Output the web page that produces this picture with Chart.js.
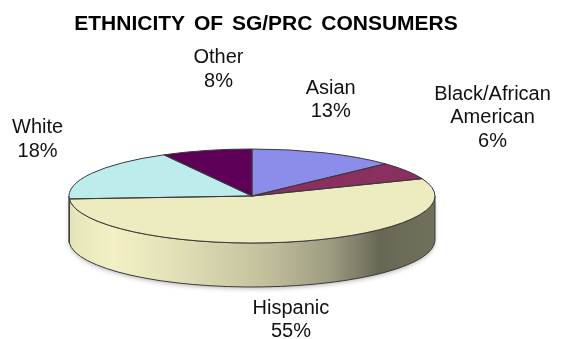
<!DOCTYPE html>
<html>
<head>
<meta charset="utf-8">
<title>Ethnicity of SG/PRC Consumers</title>
<script src="https://cdn.jsdelivr.net/npm/chart.js@4.4.1/dist/chart.umd.min.js"></script>
<style>
  html, body { margin: 0; padding: 0; background: #fff; }
  canvas { display: block; }
</style>
</head>
<body>
<canvas id="pieChart" width="561" height="339"></canvas>
<script>
const chartTitle = "ETHNICITY OF SG/PRC CONSUMERS";
const groups = ["Asian", "Black/African American", "Hispanic", "White", "Other"];
const shares = [13, 6, 55, 18, 8];
const labelLines = [["Asian"], ["Black/African", "American"], ["Hispanic"], ["White"], ["Other"]];

const sliceColors = ["#8c8cea", "#8a2f5f", "#edebc0", "#bcecec", "#5e0058"];
// where each label sits relative to the middle of its slice's rim
const labelOffsets = [[6, -53], [86, -53], [-1, 78], [-54, -34], [12, -81]];

// 3D look: flattened ellipse plus a wall underneath
const PIE_RX = 183;
const PIE_RY = 47;
const PIE_DEPTH = 44;
const EDGE = "#3a3a3a";
const FONT = '"Liberation Sans", Arial, sans-serif';

function shade(hex, f) {
  const n = parseInt(hex.slice(1), 16);
  const c = [(n >> 16) & 255, (n >> 8) & 255, n & 255].map(v => Math.max(0, Math.min(255, Math.round(v * f))));
  return `rgb(${c[0]},${c[1]},${c[2]})`;
}

function wallGradient(ctx, cx, color) {
  const g = ctx.createLinearGradient(cx - PIE_RX, 0, cx + PIE_RX, 0);
  [[0, 0.97], [0.12, 1.02], [0.3, 0.95], [0.52, 0.83], [0.71, 0.67], [0.85, 0.44], [1, 0.48]]
    .forEach(([t, f]) => g.addColorStop(t, shade(color, f)));
  return g;
}

const pie3d = {
  id: "pie3d",
  beforeDatasetsDraw(chart) {
    const ctx = chart.ctx;
    const arcs = chart.getDatasetMeta(0).data;
    const cx = arcs[0].x, cy = arcs[0].y, r = arcs[0].outerRadius;

    // front wall, only the half facing the viewer (angles 0..PI)
    ctx.save();
    arcs.forEach((arc, i) => {
      const a = Math.max(arc.startAngle, 0);
      const b = Math.min(arc.endAngle, Math.PI);
      if (b <= a) return;
      ctx.beginPath();
      ctx.ellipse(cx, cy, PIE_RX, PIE_RY, 0, a, b);
      ctx.lineTo(cx + PIE_RX * Math.cos(b), cy + PIE_RY * Math.sin(b) + PIE_DEPTH);
      ctx.ellipse(cx, cy + PIE_DEPTH, PIE_RX, PIE_RY, 0, b, a, true);
      ctx.closePath();
      ctx.save();
      ctx.shadowColor = "rgba(0,0,0,0.25)";
      ctx.shadowBlur = 4;
      ctx.shadowOffsetY = 2;
      ctx.fillStyle = wallGradient(ctx, cx, sliceColors[i]);
      ctx.fill();
      ctx.restore();
      ctx.strokeStyle = EDGE;
      ctx.lineWidth = 1;
      ctx.stroke();
    });
    ctx.restore();

    // squash the library's round pie into the top face
    ctx.save();
    ctx.translate(cx, cy);
    ctx.scale(PIE_RX / r, PIE_RY / r);
    ctx.translate(-cx, -cy);
  },
  afterDatasetsDraw(chart) {
    const ctx = chart.ctx;
    ctx.restore();
    const arcs = chart.getDatasetMeta(0).data;
    const cx = arcs[0].x, cy = arcs[0].y;

    // slice outlines on the top face
    ctx.save();
    ctx.strokeStyle = EDGE;
    ctx.lineWidth = 1;
    arcs.forEach(arc => {
      ctx.beginPath();
      ctx.moveTo(cx, cy);
      ctx.ellipse(cx, cy, PIE_RX, PIE_RY, 0, arc.startAngle, arc.endAngle);
      ctx.closePath();
      ctx.stroke();
    });
    ctx.restore();

    // labels
    ctx.save();
    ctx.fillStyle = "#111";
    ctx.font = "20px " + FONT;
    ctx.textAlign = "center";
    ctx.textBaseline = "middle";
    const lineH = 23.5;
    arcs.forEach((arc, i) => {
      const mid = (arc.startAngle + arc.endAngle) / 2;
      const x = cx + PIE_RX * Math.cos(mid) + labelOffsets[i][0];
      const y = cy + PIE_RY * Math.sin(mid) + labelOffsets[i][1];
      const lines = labelLines[i].concat([shares[i] + "%"]);
      const top = y - (lines.length - 1) * lineH / 2;
      lines.forEach((t, k) => ctx.fillText(t, x, top + k * lineH));
    });

    ctx.fillStyle = "#000";
    ctx.font = "bold 21px " + FONT;
    ctx.wordSpacing = "3px";
    ctx.fillText(chartTitle, 266, 24);
    ctx.restore();
  }
};

new Chart(document.getElementById("pieChart"), {
  type: "pie",
  data: {
    labels: groups,
    datasets: [{
      data: shares,
      backgroundColor: sliceColors,
      borderWidth: 0,
      hoverOffset: 0,
      clip: false
    }]
  },
  options: {
    responsive: false,
    animation: false,
    devicePixelRatio: 1,
    events: [],
    layout: { padding: { left: 20, right: 77, top: 53, bottom: 0 } },
    plugins: {
      legend: { display: false },
      tooltip: { enabled: false },
      title: { display: false }
    }
  },
  plugins: [pie3d]
});
</script>
</body>
</html>
